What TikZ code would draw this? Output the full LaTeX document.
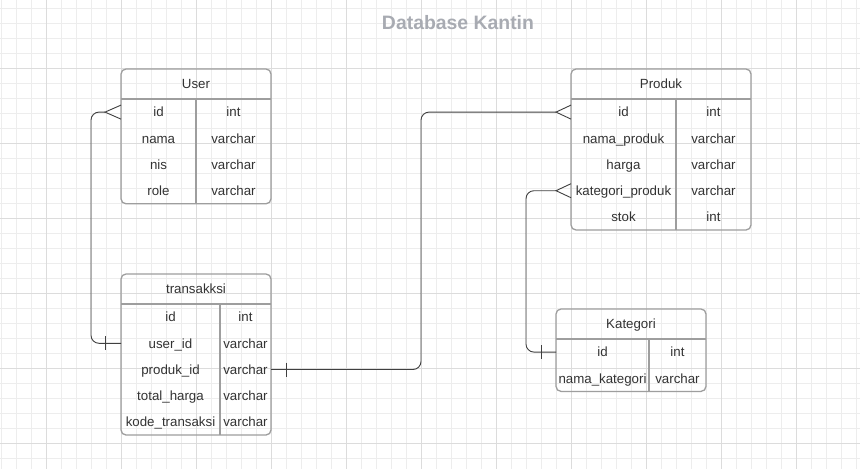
\documentclass[tikz,border=0pt]{standalone}
\usepackage{fontspec}
\setmainfont{Liberation Sans}
\usetikzlibrary{positioning,calc}
\definecolor{gridminor}{HTML}{EDEDED}
\definecolor{gridmajor}{HTML}{DCDCDC}
\definecolor{frame}{HTML}{9E9E9E}
\definecolor{ink}{HTML}{333333}
\definecolor{wire}{HTML}{404040}
\definecolor{titlegray}{HTML}{A8ABB2}

\begin{document}
\begin{tikzpicture}[
    x=1pt, y=-1pt,
    head/.style={rectangle, inner sep=0pt, outer sep=0pt, minimum height=30pt,
        text height=11pt, text depth=1.4pt, text=ink, font=\fontsize{13.3}{15}\selectfont},
    key/.style={rectangle, inner sep=0pt, outer sep=0pt, minimum width=#1, minimum height=26.2pt,
        text height=11pt, text depth=1.4pt, text=ink, font=\fontsize{13.3}{15}\selectfont},
    typ/.style={key=#1},
    tbl/.style={draw=frame, line width=1.3pt, rounded corners=5pt},
    sep/.style={draw=frame, line width=1.3pt},
    rel/.style={draw=wire, line width=0.9pt},
    ]
    \useasboundingbox (0,0) rectangle (860,469);
    \fill[white] (0,0) rectangle (860,469);

    %% background grid
    \foreach \x in {1.7,16.7,...,860} \draw[gridminor, line width=0.8pt] (\x,0) -- (\x,469);
    \foreach \y in {8.3,23.3,...,469} \draw[gridminor, line width=0.8pt] (0,\y) -- (860,\y);
    \foreach \x in {46.7,121.7,...,860} \draw[gridmajor, line width=0.8pt] (\x,0) -- (\x,469);
    \foreach \y in {68.3,143.3,...,469} \draw[gridmajor, line width=0.8pt] (0,\y) -- (860,\y);

    \node[font=\fontsize{19.4}{22}\selectfont\bfseries, text=titlegray] (title) at (458,22.5) {Database Kantin};

    %%% User table %%%
    \node[head, minimum width=150pt, anchor=north west] (user) at (121,69) {User};
    \node[key=75pt, below=0pt of user.south west, anchor=north west] (user_id) {id};
    \node[typ=75pt, right=0pt of user_id] (user_id_t) {int};
    \node[key=75pt, below=0pt of user_id] (user_nama) {nama};
    \node[typ=75pt, right=0pt of user_nama] (user_nama_t) {varchar};
    \node[key=75pt, below=0pt of user_nama] (user_nis) {nis};
    \node[typ=75pt, right=0pt of user_nis] (user_nis_t) {varchar};
    \node[key=75pt, below=0pt of user_nis] (user_role) {role};
    \node[typ=75pt, right=0pt of user_role] (user_role_t) {varchar};
    \draw[tbl] (user.north west) rectangle (user_role_t.south east);
    \draw[sep] (user.south west) -- (user.south east);
    \draw[sep] (user_id.north east) -- (user_role.south east);

    %%% Produk table %%%
    \node[head, minimum width=180pt, anchor=north west] (prod) at (571,69) {Produk};
    \node[key=105pt, below=0pt of prod.south west, anchor=north west] (prod_id) {id};
    \node[typ=75pt, right=0pt of prod_id] (prod_id_t) {int};
    \node[key=105pt, below=0pt of prod_id] (prod_nama) {nama\_produk};
    \node[typ=75pt, right=0pt of prod_nama] (prod_nama_t) {varchar};
    \node[key=105pt, below=0pt of prod_nama] (prod_harga) {harga};
    \node[typ=75pt, right=0pt of prod_harga] (prod_harga_t) {varchar};
    \node[key=105pt, below=0pt of prod_harga] (prod_kat) {kategori\_produk};
    \node[typ=75pt, right=0pt of prod_kat] (prod_kat_t) {varchar};
    \node[key=105pt, below=0pt of prod_kat] (prod_stok) {stok};
    \node[typ=75pt, right=0pt of prod_stok] (prod_stok_t) {int};
    \draw[tbl] (prod.north west) rectangle (prod_stok_t.south east);
    \draw[sep] (prod.south west) -- (prod.south east);
    \draw[sep] (prod_id.north east) -- (prod_stok.south east);

    %%% transakksi table %%%
    \node[head, minimum width=150pt, anchor=north west] (trx) at (121,274) {transakksi};
    \node[key=99pt, below=0pt of trx.south west, anchor=north west] (trx_id) {id};
    \node[typ=51pt, right=0pt of trx_id] (trx_id_t) {int};
    \node[key=99pt, below=0pt of trx_id] (trx_user) {user\_id};
    \node[typ=51pt, right=0pt of trx_user] (trx_user_t) {varchar};
    \node[key=99pt, below=0pt of trx_user] (trx_produk) {produk\_id};
    \node[typ=51pt, right=0pt of trx_produk] (trx_produk_t) {varchar};
    \node[key=99pt, below=0pt of trx_produk] (trx_total) {total\_harga};
    \node[typ=51pt, right=0pt of trx_total] (trx_total_t) {varchar};
    \node[key=99pt, below=0pt of trx_total] (trx_kode) {kode\_transaksi};
    \node[typ=51pt, right=0pt of trx_kode] (trx_kode_t) {varchar};
    \draw[tbl] (trx.north west) rectangle (trx_kode_t.south east);
    \draw[sep] (trx.south west) -- (trx.south east);
    \draw[sep] (trx_id.north east) -- (trx_kode.south east);

    %%% Kategori table %%%
    \node[head, minimum width=150pt, anchor=north west] (kat) at (556,309) {Kategori};
    \node[key=93pt, below=0pt of kat.south west, anchor=north west] (kat_id) {id};
    \node[typ=57pt, right=0pt of kat_id] (kat_id_t) {int};
    \node[key=93pt, below=0pt of kat_id] (kat_nama) {nama\_kategori};
    \node[typ=57pt, right=0pt of kat_nama] (kat_nama_t) {varchar};
    \draw[tbl] (kat.north west) rectangle (kat_nama_t.south east);
    \draw[sep] (kat.south west) -- (kat.south east);
    \draw[sep] (kat_id.north east) -- (kat_nama.south east);

    %% relations
    % user -> transakksi
    \draw[rel, rounded corners=8pt] ($(user_id.west)+(-16,0)$) -- ++(-14,0) |- (trx_user.west);
    \draw[rel] ($(user_id.west)+(0,-7)$) -- ++(-16,7) -- ++(16,7);
    \draw[rel] ($(trx_user.west)+(-16,-7)$) -- ++(0,14);
    % transakksi -> produk
    \draw[rel, rounded corners=8pt] (trx_produk_t.east) -- ++(150,0) |- ($(prod_id.west)+(-15,0)$);
    \draw[rel] ($(prod_id.west)+(0,-7)$) -- ++(-15,7) -- ++(15,7);
    \draw[rel] ($(trx_produk_t.east)+(15,-7)$) -- ++(0,14);
    % kategori -> produk
    \draw[rel, rounded corners=8pt] (kat_id.west) -- ++(-30,0) |- ($(prod_kat.west)+(-15,0)$);
    \draw[rel] ($(prod_kat.west)+(0,-7)$) -- ++(-15,7) -- ++(15,7);
    \draw[rel] ($(kat_id.west)+(-15,-7)$) -- ++(0,14);
\end{tikzpicture}
\end{document}
